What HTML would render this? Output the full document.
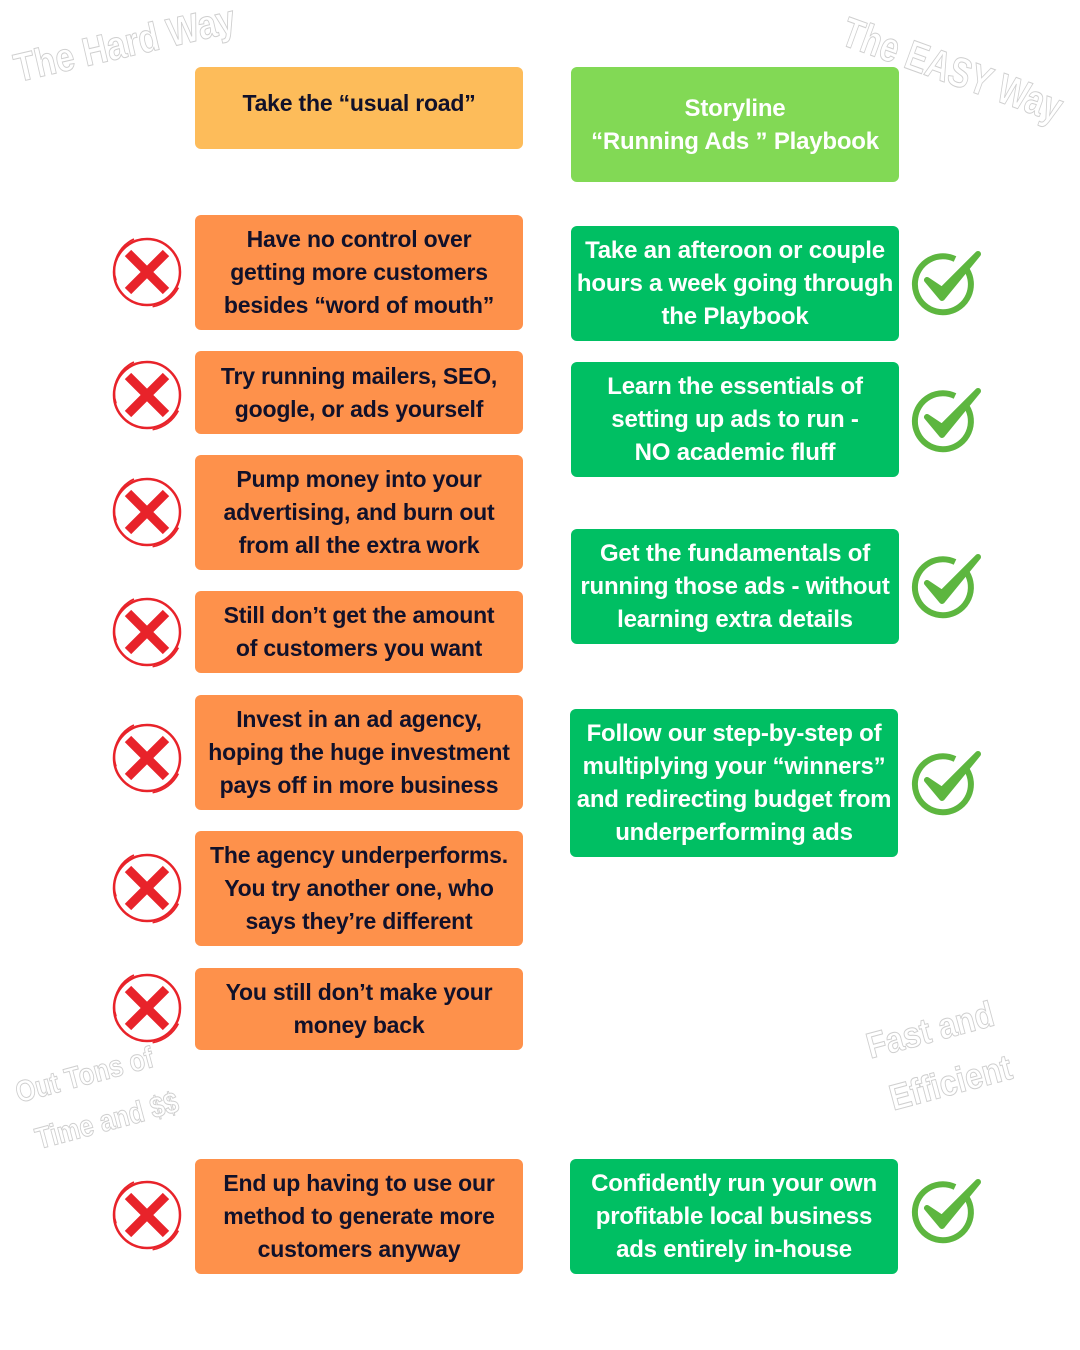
<!DOCTYPE html>
<html><head><meta charset="utf-8"><style>
body{margin:0;width:1080px;height:1350px;background:#fff;position:relative;overflow:hidden;font-family:"Liberation Sans",sans-serif}
.b{position:absolute;border-radius:6px;display:flex;align-items:center;justify-content:center;text-align:center;font-weight:bold;font-size:23px;line-height:33px;white-space:nowrap;letter-spacing:-0.2px}
.o{background:#FE914B;color:#11112a;left:195px;width:328px}
.g{background:#00BF63;color:#fff;left:571px;width:328px;font-size:24px}
.w{position:absolute;font-weight:bold;color:transparent;-webkit-text-stroke:1px #cfcfcf;white-space:nowrap;font-size:40px}
svg{position:absolute}
</style></head><body>
<div class="w" style="left:10px;top:48px;font-size:40px;transform:rotate(-13deg) scaleX(0.85);transform-origin:left top">The Hard Way</div>
<div class="w" style="left:852px;top:8px;font-size:42px;transform:rotate(20deg) scaleX(0.78);transform-origin:left top">The EASY Way</div>
<div class="w" style="left:10px;top:1070px;font-size:30px;transform:rotate(-15deg) scaleX(0.85);transform-origin:left top;line-height:50px">Out Tons of<br>&nbsp;Time and $$</div>
<div class="w" style="left:860px;top:1020px;font-size:36px;transform:rotate(-15deg) scaleX(0.88);transform-origin:left top;line-height:56px">Fast and<br>&nbsp;Efficient</div>

<div class="b" style="background:#FDBC5A;color:#11112a;left:195px;width:328px;top:67px;height:82px;align-items:flex-start;padding-top:20px;box-sizing:border-box">Take the “usual road”</div>
<div class="b" style="background:#82D955;color:#fff;left:571px;width:328px;top:67px;height:115px;font-size:24px">Storyline<br>“Running Ads ” Playbook</div>

<div class="b o" style="top:215px;height:115px">Have no control over<br>getting more customers<br>besides “word of mouth”</div>
<div class="b o" style="top:351px;height:83px">Try running mailers, SEO,<br>google, or ads yourself</div>
<div class="b o" style="top:455px;height:115px">Pump money into your<br>advertising, and burn out<br>from all the extra work</div>
<div class="b o" style="top:591px;height:82px">Still don’t get the amount<br>of customers you want</div>
<div class="b o" style="top:695px;height:115px">Invest in an ad agency,<br>hoping the huge investment<br>pays off in more business</div>
<div class="b o" style="top:831px;height:115px">The agency underperforms.<br>You try another one, who<br>says they’re different</div>
<div class="b o" style="top:968px;height:82px">You still don’t make your<br>money back</div>
<div class="b o" style="top:1159px;height:115px">End up having to use our<br>method to generate more<br>customers anyway</div>

<div class="b g" style="top:226px;height:115px">Take an afteroon or couple<br>hours a week going through<br>the Playbook</div>
<div class="b g" style="top:362px;height:115px">Learn the essentials of<br>setting up ads to run -<br>NO academic fluff</div>
<div class="b g" style="top:529px;height:115px">Get the fundamentals of<br>running those ads - without<br>learning extra details</div>
<div class="b g" style="top:709px;height:148px;left:570px">Follow our step-by-step of<br>multiplying your “winners”<br>and redirecting budget from<br>underperforming ads</div>
<div class="b g" style="top:1159px;height:115px;left:570px">Confidently run your own<br>profitable local business<br>ads entirely in-house</div>

<svg width="1080" height="1350" style="left:0;top:0">
<defs>
<g id="x"><circle r="33" fill="none" stroke="#E8232A" stroke-width="2.5"/><path d="M-26,-12 A30,30 0 0 1 10,-30" fill="none" stroke="#E8232A" stroke-width="1.5" transform="rotate(-40) scale(1.12)"/><path d="M5,31 A32,32 0 0 0 28,14" fill="none" stroke="#E8232A" stroke-width="1.5" transform="scale(1.12)"/><path d="M-19,-19 L19,19 M19,-19 L-19,19" stroke="#E8232A" stroke-width="9"/></g>
<g id="c"><path d="M22,-14 A28,28 0 1 1 10,-25" fill="none" stroke="#5DB63F" stroke-width="6"/><path d="M-18,-4 L-3,14 L33,-30 L-3,6 Z" fill="#5DB63F" stroke="#5DB63F" stroke-width="6" stroke-linejoin="round"/></g>
</defs>
<use href="#x" x="147" y="272"/><use href="#x" x="147" y="395"/><use href="#x" x="147" y="512"/><use href="#x" x="147" y="632"/><use href="#x" x="147" y="758"/><use href="#x" x="147" y="888"/><use href="#x" x="147" y="1008"/><use href="#x" x="147" y="1215"/>
<use href="#c" x="945" y="284"/><use href="#c" x="945" y="421"/><use href="#c" x="945" y="587"/><use href="#c" x="945" y="784"/><use href="#c" x="945" y="1212"/>
</svg>
</body></html>
